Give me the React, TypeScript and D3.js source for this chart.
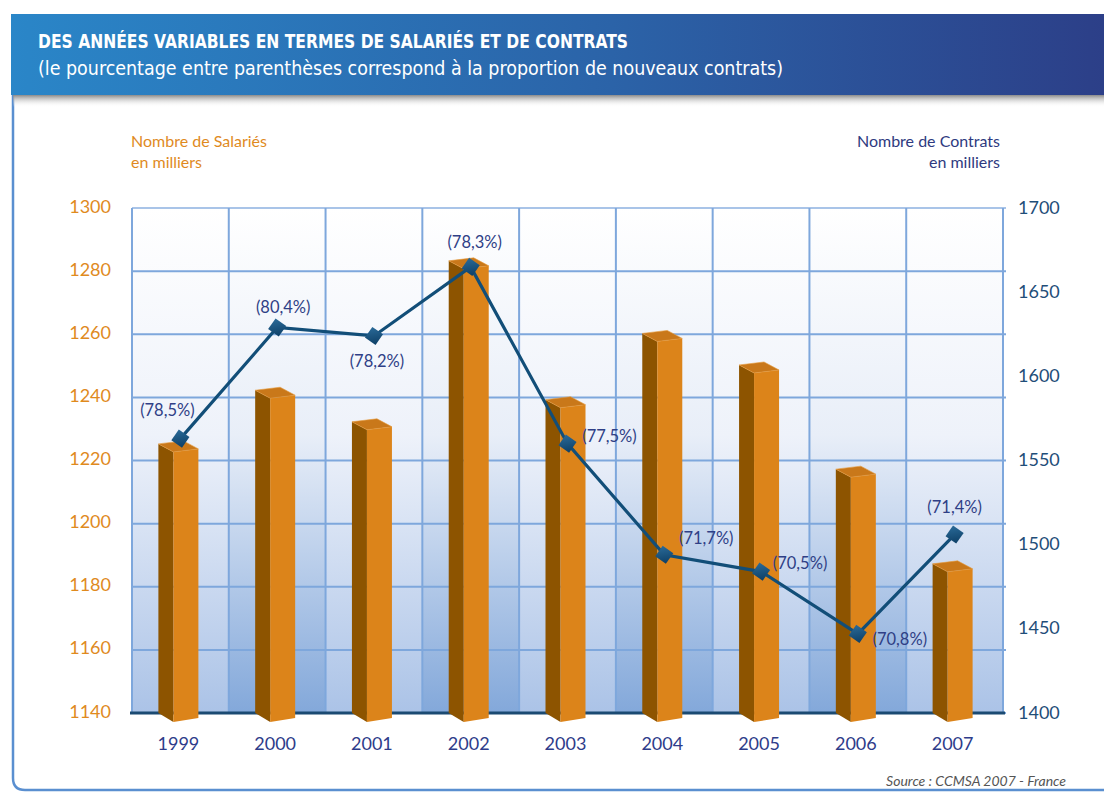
import React from 'react';
import * as d3 from 'd3';

const years = ['1999', '2000', '2001', '2002', '2003', '2004', '2005', '2006', '2007'];
const salaries = [1224, 1241, 1231, 1282, 1238, 1259, 1249, 1216, 1186];
const contrats = [1563, 1629, 1624, 1665, 1560, 1494, 1484, 1447, 1506];
const newShare = ['(78,5%)', '(80,4%)', '(78,2%)', '(78,3%)', '(77,5%)', '(71,7%)', '(70,5%)', '(70,8%)', '(71,4%)'];
const leftTicks = [1140, 1160, 1180, 1200, 1220, 1240, 1260, 1280, 1300];
const rightTicks = [1400, 1450, 1500, 1550, 1600, 1650, 1700];

// where each percentage label sits relative to its marker
const labelOffsets = [
  [-13, -27], [6, -19], [3, 27], [4, -23], [42, -6], [42, -15], [39, -7], [42, 7], [0, -26],
];

const W = 1104;
const H = 793;
const plot = { left: 132, right: 1003, top: 208, bottom: 713 };

const ORANGE = '#e08a1e';
const NAVY = '#124e78';
const LABEL = '#2f3f86';

export default function App() {
  const x = d3.scaleBand().domain(years).range([plot.left, plot.right]);
  const yL = d3.scaleLinear().domain([1140, 1300]).range([plot.bottom, plot.top]);
  const yR = d3.scaleLinear().domain([1400, 1700]).range([plot.bottom, plot.top]);
  const cx = (d: string) => (x(d) as number) + x.bandwidth() / 2;

  const line = d3.line<number>()
    .x((d, i) => cx(years[i]))
    .y(d => yR(d));

  const bars = salaries.map((v, i) => {
    const c = cx(years[i]);
    const fl = c - 7, fr = c + 18, sl = c - 22;
    const t = yL(v);
    const b = plot.bottom;
    return {
      side: `${sl},${t - 4} ${fl},${t + 4} ${fl},${b + 9} ${sl},${b}`,
      front: `${fl},${t + 4} ${fr},${t + 1} ${fr},${b + 5} ${fl},${b + 9}`,
      top: `${sl},${t - 4} ${fl},${t + 4} ${fr},${t + 1} ${sl + 25},${t - 7}`,
    };
  });

  const font = 'Lato, "Open Sans", sans-serif';

  return (
    <svg width={W} height={H} style={{ position: 'absolute', left: 0, top: 0 }} fontFamily={font}>
      <defs>
        <linearGradient id="banner" x1="0" x2="1" y1="0" y2="0">
          <stop offset="0" stopColor="#2a86c8" />
          <stop offset="0.55" stopColor="#2b63a8" />
          <stop offset="1" stopColor="#2c3f88" />
        </linearGradient>
        <linearGradient id="shadow" x1="0" x2="0" y1="0" y2="1">
          <stop offset="0" stopColor="#8a8a8a" />
          <stop offset="1" stopColor="#ffffff" stopOpacity="0" />
        </linearGradient>
        <linearGradient id="bandA" x1="0" x2="0" y1="0" y2="1">
          <stop offset="0" stopColor="#ffffff" />
          <stop offset="0.45" stopColor="#eef2fa" />
          <stop offset="1" stopColor="#abc3e7" />
        </linearGradient>
        <linearGradient id="bandB" x1="0" x2="0" y1="0" y2="1">
          <stop offset="0" stopColor="#ffffff" />
          <stop offset="0.45" stopColor="#e8eef8" />
          <stop offset="1" stopColor="#83a8da" />
        </linearGradient>
        <linearGradient id="diamond" x1="0" x2="1" y1="0" y2="1">
          <stop offset="0" stopColor="#2a6a98" />
          <stop offset="1" stopColor="#0d3f66" />
        </linearGradient>
      </defs>

      <rect x={0} y={0} width={W} height={H} fill="#ffffff" />

      {/* panel frame */}
      <path d={`M13,95 L13,778 Q13,790 25,790 L${W},790`} fill="none" stroke="#5a8fd0" strokeWidth={2.5} />
      <rect x={13} y={95} width={W - 13} height={12} fill="url(#shadow)" />
      <rect x={11} y={14} width={W - 11} height={81} fill="url(#banner)" />
      <text x={38} y={48} fill="#fff" fontSize={19} fontWeight="bold"
        fontFamily='"Liberation Sans Narrow", "DejaVu Sans Condensed", sans-serif'
        textLength={590} lengthAdjust="spacingAndGlyphs">
        DES ANNÉES VARIABLES EN TERMES DE SALARIÉS ET DE CONTRATS
      </text>
      <text x={38} y={75} fill="#fff" fontSize={19}
        fontFamily='"Liberation Sans Narrow", "DejaVu Sans Condensed", sans-serif'
        textLength={745} lengthAdjust="spacingAndGlyphs">
        (le pourcentage entre parenthèses correspond à la proportion de nouveaux contrats)
      </text>

      {/* plot background: alternating column bands */}
      {years.map((d, i) => (
        <rect key={d} x={x(d)} y={plot.top} width={x.bandwidth()} height={plot.bottom - plot.top}
          fill={i % 2 === 0 ? 'url(#bandA)' : 'url(#bandB)'} />
      ))}

      {/* grid */}
      {leftTicks.map(t => (
        <line key={t} x1={plot.left} x2={plot.right + 3} y1={yL(t)} y2={yL(t)}
          stroke={t === 1300 ? '#a9c4e8' : '#7ea7dc'} strokeWidth={2} />
      ))}
      {years.map(d => (
        <line key={d} x1={x(d)} x2={x(d)} y1={plot.top} y2={plot.bottom} stroke="#7ea7dc" strokeWidth={2} />
      ))}
      <line x1={plot.right} x2={plot.right} y1={plot.top} y2={plot.bottom} stroke="#7ea7dc" strokeWidth={2} />
      <line x1={plot.left - 2} x2={plot.right + 2} y1={plot.bottom} y2={plot.bottom} stroke="#1b4a72" strokeWidth={3} />

      {/* bars */}
      {bars.map((b, i) => (
        <g key={years[i]}>
          <polygon points={b.side} fill="#8d5400" />
          <polygon points={b.front} fill="#dc841a" />
          <polygon points={b.top} fill="#c9781a" stroke="#e59a3c" strokeWidth={0.6} />
        </g>
      ))}

      {/* contracts line */}
      <path d={line(contrats) as string} fill="none" stroke={NAVY} strokeWidth={3.2} />
      {contrats.map((v, i) => (
        <rect key={years[i]} x={-6.5} y={-6.5} width={13} height={13} fill="url(#diamond)"
          transform={`translate(${cx(years[i])},${yR(v)}) rotate(35)`} />
      ))}
      {contrats.map((v, i) => (
        <text key={years[i]} x={cx(years[i]) + labelOffsets[i][0]} y={yR(v) + labelOffsets[i][1]}
          textAnchor="middle" dominantBaseline="middle" fill={LABEL} fontSize={16.5}>
          {newShare[i]}
        </text>
      ))}

      {/* left axis */}
      {leftTicks.map(t => (
        <text key={t} x={111} y={yL(t)} textAnchor="end" dominantBaseline="middle" fill={ORANGE} fontSize={18}>{t}</text>
      ))}
      <text x={131} y={147} fill={ORANGE} fontSize={16}>Nombre de Salariés</text>
      <text x={131} y={168} fill={ORANGE} fontSize={16}>en milliers</text>

      {/* right axis */}
      {rightTicks.map(t => (
        <text key={t} x={1018} y={yR(t) + 1} textAnchor="start" dominantBaseline="middle" fill="#1f4e79" fontSize={18}>{t}</text>
      ))}
      <text x={1000} y={147} textAnchor="end" fill="#2e3a80" fontSize={16}>Nombre de Contrats</text>
      <text x={1000} y={168} textAnchor="end" fill="#2e3a80" fontSize={16}>en milliers</text>

      {/* years */}
      {years.map(d => (
        <text key={d} x={cx(d) - 2} y={745} textAnchor="middle" dominantBaseline="middle" fill="#2e3c8a" fontSize={18}>{d}</text>
      ))}

      <text x={1066} y={786} textAnchor="end" fill="#555" fontSize={14} fontStyle="italic">Source : CCMSA 2007 - France</text>
    </svg>
  );
}
